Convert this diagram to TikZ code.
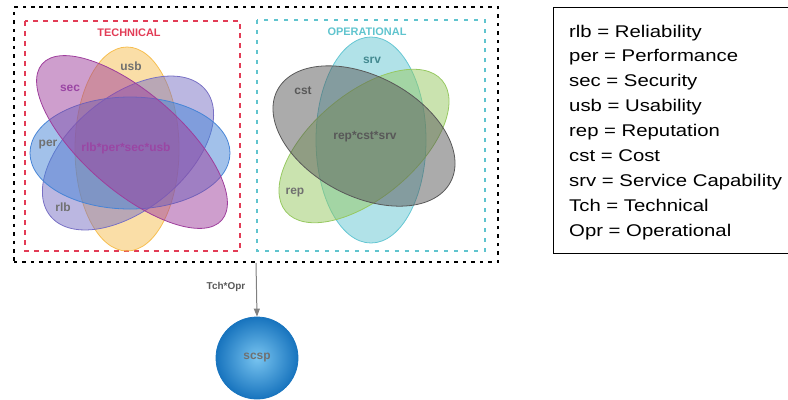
\documentclass[tikz,border=0pt]{standalone}
\usepackage{fontspec}
\setmainfont{Liberation Sans}
\usepackage{graphicx}
\usetikzlibrary{arrows.meta}

\definecolor{techred}{RGB}{226,60,86}
\definecolor{opcyan}{RGB}{96,196,206}
\definecolor{usbcol}{RGB}{246,190,80}
\definecolor{rlbcol}{RGB}{120,112,196}
\definecolor{percol}{RGB}{70,132,214}
\definecolor{seccol}{RGB}{158,62,156}
\definecolor{srvcol}{RGB}{100,198,210}
\definecolor{repcol}{RGB}{150,200,96}
\definecolor{cstcol}{RGB}{88,88,88}
\definecolor{lblgray}{RGB}{112,112,112}
\definecolor{lblpurple}{RGB}{154,70,164}
\definecolor{ballin}{RGB}{120,196,240}
\definecolor{ballout}{RGB}{24,116,190}

\newcommand{\legtext}[1]{\scalebox{1.2}[1]{#1}}

\tikzset{
  venn/.style={line width=0.8pt, fill opacity=0.5},
  vlabel/.style={font=\fontsize{12}{12}\selectfont\bfseries, text=lblgray},
  legline/.style={anchor=base west, inner sep=0pt, font=\fontsize{17}{17}\selectfont}
}

\begin{document}
\begin{tikzpicture}[x=1bp,y=1bp]
\useasboundingbox (0,0) rectangle (788,-399);

\node[draw=black, line width=1.8pt, dash pattern=on 3.5pt off 5pt, minimum width=484bp, minimum height=255bp, inner sep=0pt] (outer) at (256,-134.5) {};

\draw[techred, line width=1.4pt, dash pattern=on 5pt off 5pt] (25,-21) rectangle (240,-251);
\draw[opcyan, line width=1.4pt, dash pattern=on 4pt off 6pt] (257,-20) rectangle (485,-251);

\node[font=\fontsize{11}{11}\selectfont\bfseries, text=techred] (tech) at (129,-33) {TECHNICAL};
\node[font=\fontsize{11}{11}\selectfont\bfseries, text=opcyan] (oper) at (367,-32) {OPERATIONAL};

\draw[venn, draw=usbcol, fill=usbcol] (127,-149) ellipse (52bp and 102bp);
\draw[venn, draw=rlbcol, fill=rlbcol, rotate around={39:(128,-153)}] (128,-153) ellipse (100bp and 57bp);
\draw[venn, draw=percol, fill=percol] (130,-153) ellipse (100bp and 56bp);
\draw[venn, draw=seccol, fill=seccol, rotate around={-41:(132,-142)}] (132,-142) ellipse (119bp and 49bp);

\node[vlabel] (usb) at (131,-66) {usb};
\node[vlabel, text=lblpurple] (sec) at (70,-88) {sec};
\node[vlabel] (per) at (48,-145) {per};
\node[vlabel] (rlb) at (63,-207) {rlb};
\node[vlabel, text=lblpurple] (techall) at (126,-148) {rlb*per*sec*usb};

\draw[venn, draw=srvcol, fill=srvcol] (371,-140) ellipse (55bp and 103bp);
\draw[venn, draw=repcol, fill=repcol, rotate around={40:(364,-146)}] (364,-146) ellipse (102bp and 52bp);
\draw[venn, draw=cstcol, fill=cstcol, rotate around={-28:(364,-136)}] (364,-136) ellipse (98bp and 60bp);

\node[vlabel, text=opcyan!70!black] (srv) at (372,-60) {srv};
\node[vlabel, text=cstcol] (cst) at (303,-91) {cst};
\node[vlabel] (rep) at (295,-193) {rep};
\node[vlabel, text=cstcol] (opall) at (365,-137) {rep*cst*srv};

\node[circle, minimum size=82bp, inner sep=0pt, draw=ballout, line width=0.8pt, inner color=ballin, outer color=ballout, text=lblgray, font=\fontsize{12}{12}\selectfont\bfseries] (scsp) at (257,-358) {scsp};

\draw[gray, line width=1pt, -{Triangle[length=8bp, width=6bp]}] (outer.south) -- (scsp.north);
\node[font=\fontsize{10}{10}\selectfont\bfseries, text=black!65] (tchopr) at (226,-287) {Tch*Opr};

\draw[line width=1pt] (553,-7) rectangle (795,-253);
\node[legline] (lrlb) at (569,-37) {\legtext{rlb = Reliability}};
\node[legline] (lper) at (569,-61.9) {\legtext{per = Performance}};
\node[legline] (lsec) at (569,-86.8) {\legtext{sec = Security}};
\node[legline] (lusb) at (569,-111.7) {\legtext{usb = Usability}};
\node[legline] (lrep) at (569,-136.6) {\legtext{rep = Reputation}};
\node[legline] (lcst) at (569,-161.5) {\legtext{cst = Cost}};
\node[legline] (lsrv) at (569,-186.4) {\legtext{srv = Service Capability}};
\node[legline] (ltch) at (569,-211.3) {\legtext{Tch = Technical}};
\node[legline] (lopr) at (569,-236.2) {\legtext{Opr = Operational}};
\end{tikzpicture}
\end{document}
